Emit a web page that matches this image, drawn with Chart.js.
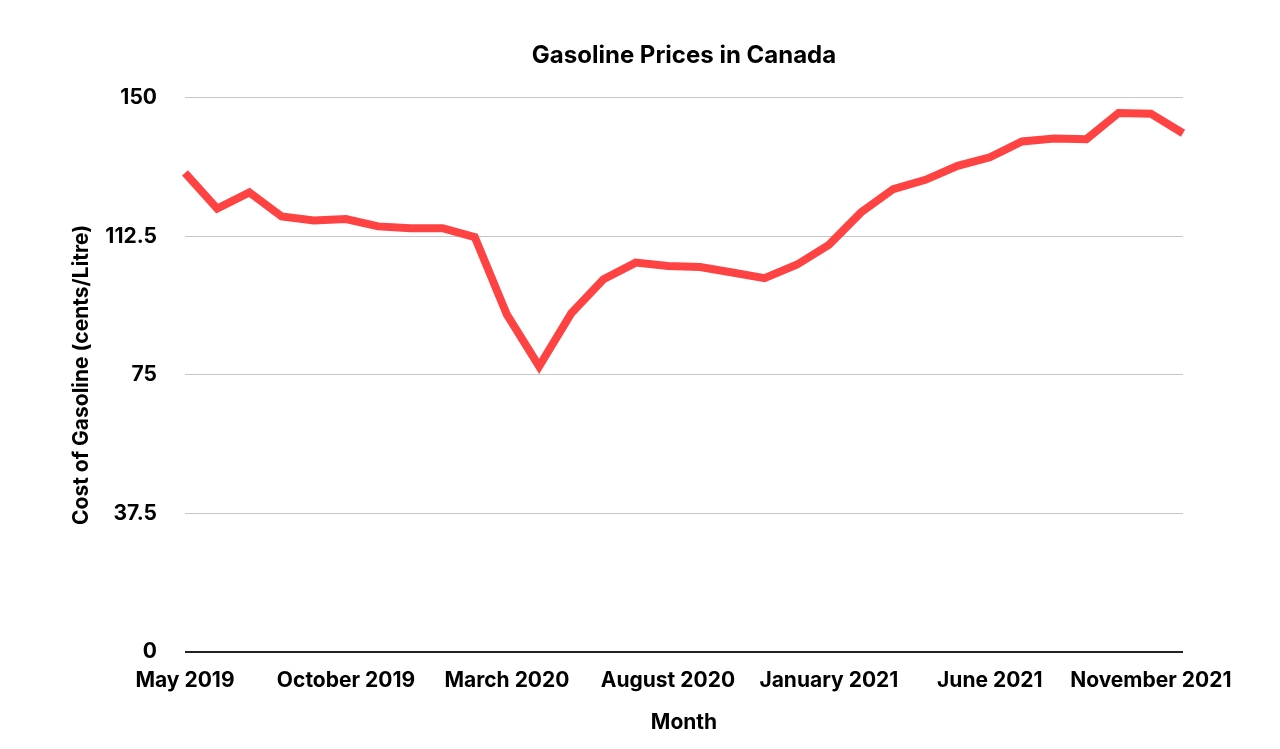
<!DOCTYPE html>
<html>
<head>
<meta charset="utf-8">
<script src="https://cdn.jsdelivr.net/npm/chart.js@4"></script>
<style>
  html, body { margin: 0; padding: 0; background: #ffffff; }
  #wrap { width: 1280px; height: 749px; position: relative; }
</style>
</head>
<body>
<div id="wrap"><canvas id="c" width="1280" height="749"></canvas></div>
<script>
const months = [
  "May 2019","June 2019","July 2019","August 2019","September 2019","October 2019",
  "November 2019","December 2019","January 2020","February 2020","March 2020","April 2020",
  "May 2020","June 2020","July 2020","August 2020","September 2020","October 2020",
  "November 2020","December 2020","January 2021","February 2021","March 2021","April 2021",
  "May 2021","June 2021","July 2021","August 2021","September 2021","October 2021",
  "November 2021","December 2021"
];
const prices = [
  129.7, 120.0, 124.4, 117.9, 116.8, 117.2,
  115.2, 114.7, 114.7, 112.3, 91.3, 77.3,
  91.7, 100.9, 105.4, 104.5, 104.2, 102.7,
  101.2, 104.8, 110.2, 119.0, 125.3, 127.8,
  131.6, 133.9, 138.2, 139.0, 138.8, 145.9,
  145.7, 140.4
];
const yTicks = [0, 37.5, 75, 112.5, 150];
const labelEvery = 5;

const FONT = "Inter, 'Noto Sans', sans-serif";

new Chart(document.getElementById('c'), {
  type: 'line',
  data: {
    labels: months,
    datasets: [{
      label: 'Cost of Gasoline',
      data: prices,
      borderColor: '#ff4242',
      borderWidth: 8,
      borderJoinStyle: 'miter',
      pointRadius: 0,
      tension: 0,
      fill: false
    }]
  },
  options: {
    responsive: false,
    animation: false,
    devicePixelRatio: 1,
    layout: { padding: { left: 62, right: 97, top: 0, bottom: 0 } },
    plugins: {
      legend: { display: false },
      tooltip: { enabled: false },
      title: {
        display: true,
        fullSize: false,
        text: 'Gasoline Prices in Canada',
        color: '#000',
        font: { family: FONT, size: 24, weight: '700' },
        padding: { top: 41, bottom: 28 }
      }
    },
    scales: {
      x: {
        offset: false,
        grid: { display: false, drawTicks: false },
        border: { display: false },
        ticks: {
          autoSkip: false,
          maxRotation: 0,
          minRotation: 0,
          padding: 16,
          color: '#000',
          font: { family: FONT, size: 21, weight: '700' },
          callback: function (v, i) { return i % labelEvery === 0 ? months[i] : ''; }
        },
        title: {
          display: true,
          text: 'Month',
          color: '#000',
          font: { family: FONT, size: 21, weight: '700' },
          padding: { top: 0, bottom: 14 }
        },
        afterFit: function (s) { s.height = 97; }
      },
      y: {
        min: 0,
        max: 150,
        afterBuildTicks: function (s) { s.ticks = yTicks.map(v => ({ value: v })); },
        grid: {
          drawTicks: false,
          color: function (ctx) { return ctx.tick && ctx.tick.value === 0 ? '#222' : '#c6c6c6'; },
          lineWidth: function (ctx) { return ctx.tick && ctx.tick.value === 0 ? 2 : 1; }
        },
        border: { display: false },
        ticks: {
          padding: 28,
          color: '#000',
          font: { family: FONT, size: 21, weight: '700' },
          callback: function (v) { return String(v); }
        },
        title: {
          display: true,
          text: 'Cost of Gasoline (cents/Litre)',
          color: '#000',
          font: { family: FONT, size: 21, weight: '700' },
          padding: { top: 7, bottom: 0 }
        },
        afterFit: function (s) { s.width = 123; }
      }
    }
  }
});
</script>
</body>
</html>
